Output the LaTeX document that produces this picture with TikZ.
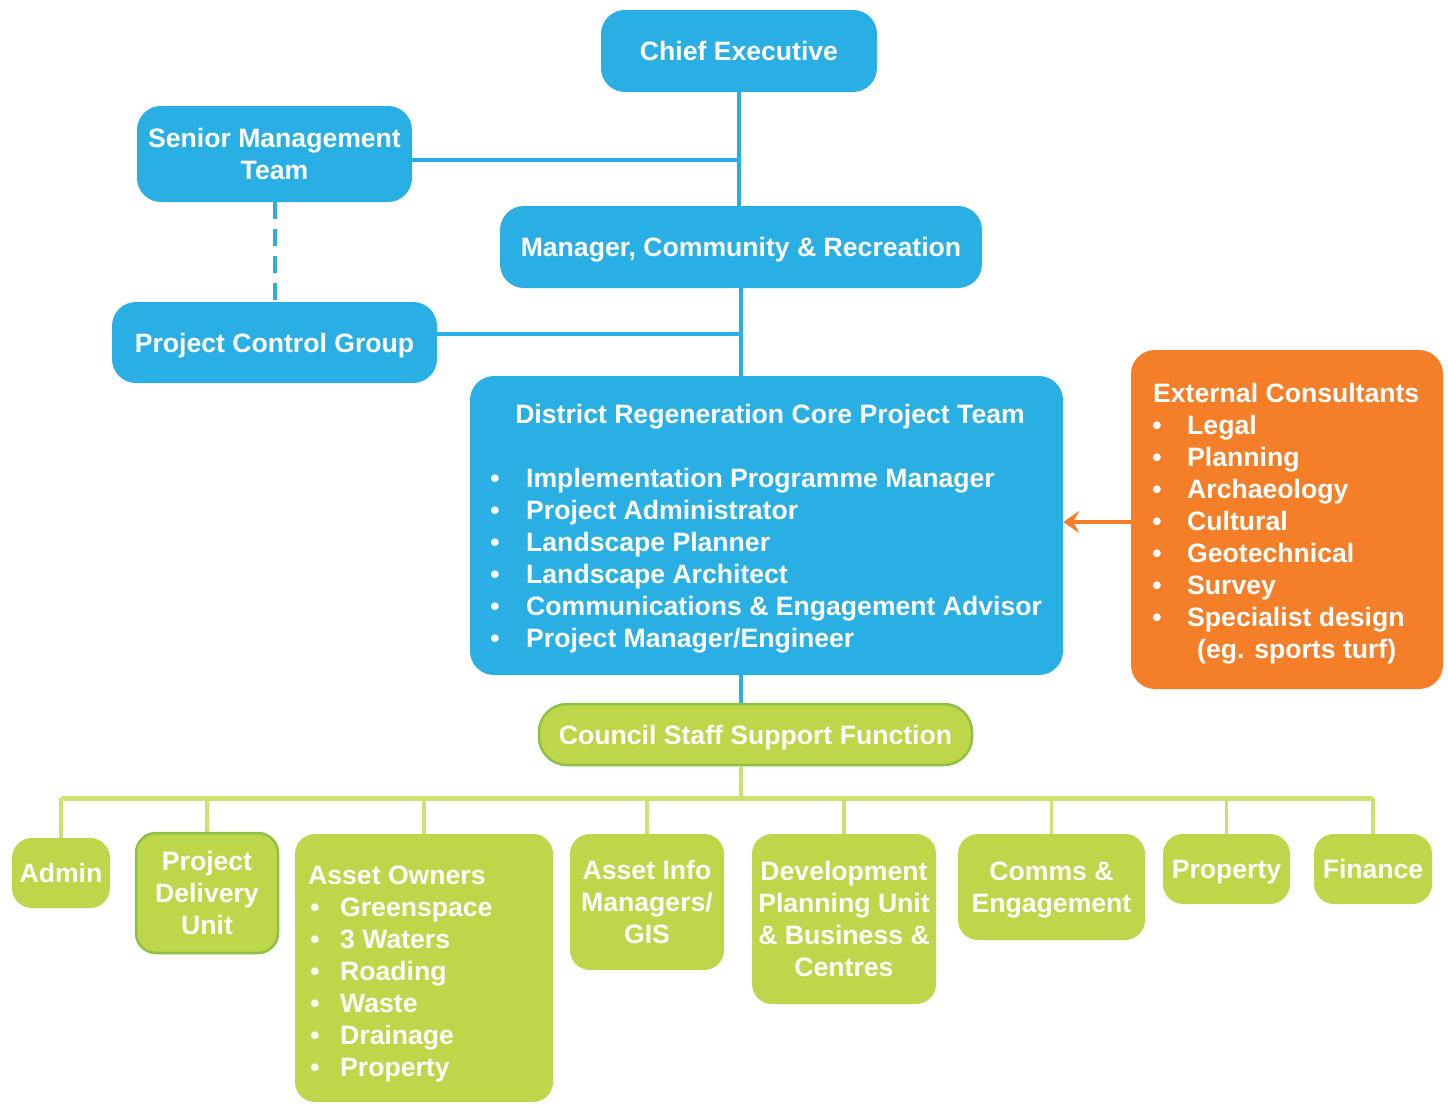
\documentclass[tikz,border=0pt]{standalone}
\usepackage{fontspec}
\setmainfont{Liberation Sans}
\usetikzlibrary{arrows.meta,calc}
\definecolor{cblue}{HTML}{29AFE3}
\definecolor{corange}{HTML}{F47F28}
\definecolor{cgreen}{HTML}{BED649}
\definecolor{cgreendk}{HTML}{8DC044}
\definecolor{cline}{HTML}{CDE070}
\begin{document}
\begin{tikzpicture}[x=1pt,y=-1pt,
  box/.style={fill=#1, draw=none, rounded corners=24pt, inner sep=0pt, text depth=0pt,
    text=white, font=\bfseries\fontsize{26.6}{32}\selectfont, align=center},
  gbox/.style={box=cgreen, rounded corners=20pt},
  gboxb/.style={gbox, draw=cgreendk, line width=2.5pt},
  txt/.style={text=white, font=\bfseries\fontsize{26.6}{32}\selectfont, inner sep=0pt},
  bline/.style={draw=cblue, line width=4pt},
  gline/.style={draw=cline, line width=3.5pt},
  busline/.style={draw=cline, line width=5pt},
  oarrow/.style={draw=corange, line width=4pt, -{Stealth[length=16pt,width=22pt,inset=6pt]}}
]
\useasboundingbox (0,0) rectangle (1448,1104);

\coordinate (bus) at (741,798);

% blue boxes
\node[box=cblue, minimum width=276pt, minimum height=82pt] (chief) at (739,51) {Chief Executive};
\node[box=cblue, minimum width=275pt, minimum height=96pt] (smt) at (274.5,154) {Senior Management\\Team};
\node[box=cblue, minimum width=482pt, minimum height=82pt] (mgr) at (741,247) {Manager, Community \& Recreation};
\node[box=cblue, minimum width=325pt, minimum height=81pt] (pcg) at (274.5,342.5) {Project Control Group};
\node[box=cblue, minimum width=593pt, minimum height=299pt] (core) at (766.5,525.5) {};
\node[box=corange, minimum width=312pt, minimum height=339pt] (ext) at (1287,519.5) {};

% green boxes
\node[gboxb, minimum width=433pt, minimum height=61pt, rounded corners=28pt] (council) at (755.5,734.5) {Council Staff Support Function};
\node[gbox, minimum width=98pt, minimum height=70pt] (admin) at (61,873) {Admin};
\node[gboxb, minimum width=142pt, minimum height=120pt] (pdu) at (207,893) {Project\\Delivery\\Unit};
\node[gbox, minimum width=258pt, minimum height=268pt] (ao) at (424,968) {};
\node[gbox, minimum width=154pt, minimum height=136pt] (aim) at (647,902) {Asset Info\\Managers/\\GIS};
\node[gbox, minimum width=184pt, minimum height=170pt] (dpu) at (844,919) {Development\\Planning Unit\\\& Business \&\\Centres};
\node[gbox, minimum width=187pt, minimum height=106pt] (comms) at (1051.5,887) {Comms \&\\Engagement};
\node[gbox, minimum width=127pt, minimum height=70pt] (prop) at (1226.5,869) {Property};
\node[gbox, minimum width=118pt, minimum height=70pt] (fin) at (1373,869) {Finance};

% core team text
\node[txt, anchor=base] (coretitle) at (770,423) {District Regeneration Core Project Team};
\foreach \t [count=\i] in {Implementation Programme Manager, Project Administrator, Landscape Planner, Landscape Architect, Communications \& Engagement Advisor, Project Manager/Engineer}{
  \node[txt, anchor=base west] (ct\i) at (526,{487+(\i-1)*32}) {\t};
  \node[txt, anchor=base] (cb\i) at (495,{487+(\i-1)*32}) {\textbullet};
}

% external consultants text
\node[txt, anchor=base west] (exttitle) at (1153,402) {External Consultants};
\foreach \t [count=\i] in {Legal, Planning, Archaeology, Cultural, Geotechnical, Survey, Specialist design}{
  \node[txt, anchor=base west] (et\i) at (1187,{434+(\i-1)*32}) {\t};
  \node[txt, anchor=base] (eb\i) at (1157,{434+(\i-1)*32}) {\textbullet};
}
\node[txt, anchor=base west] (et8) at (1197,658) {(eg. sports turf)};

% asset owners text
\node[txt, anchor=base west] (aotitle) at (308,884) {Asset Owners};
\foreach \t [count=\i] in {Greenspace, 3 Waters, Roading, Waste, Drainage, Property}{
  \node[txt, anchor=base west] (at\i) at (340,{916+(\i-1)*32}) {\t};
  \node[txt, anchor=base] (ab\i) at (315,{916+(\i-1)*32}) {\textbullet};
}

% connectors
\draw[bline] (chief.south) -- (chief.south |- mgr.north);
\draw[bline] ($(smt.east)+(0,6)$) -- ($(chief.south |- smt.east)+(0,6)$);
\draw[bline] (mgr.south) -- (mgr.south |- core.north);
\draw[bline] ($(pcg.east)+(0,-8.5)$) -- ($(mgr.south |- pcg.east)+(0,-8.5)$);
\draw[bline, dash pattern=on 17pt off 10pt] (smt.south) -- (pcg.north);
\draw[bline] (bus |- core.south) -- (bus |- council.north);
\draw[oarrow] (ext.west |- 0,522) -- (core.east |- 0,522);

\draw[gline] (bus |- council.south) -- (bus);
\draw[busline] (admin.north |- bus) -- (fin.north |- bus);
\foreach \b in {admin,pdu,ao,aim,dpu,comms,prop,fin}{
  \draw[gline] (\b.north |- bus) -- (\b.north);
}
\end{tikzpicture}
\end{document}
